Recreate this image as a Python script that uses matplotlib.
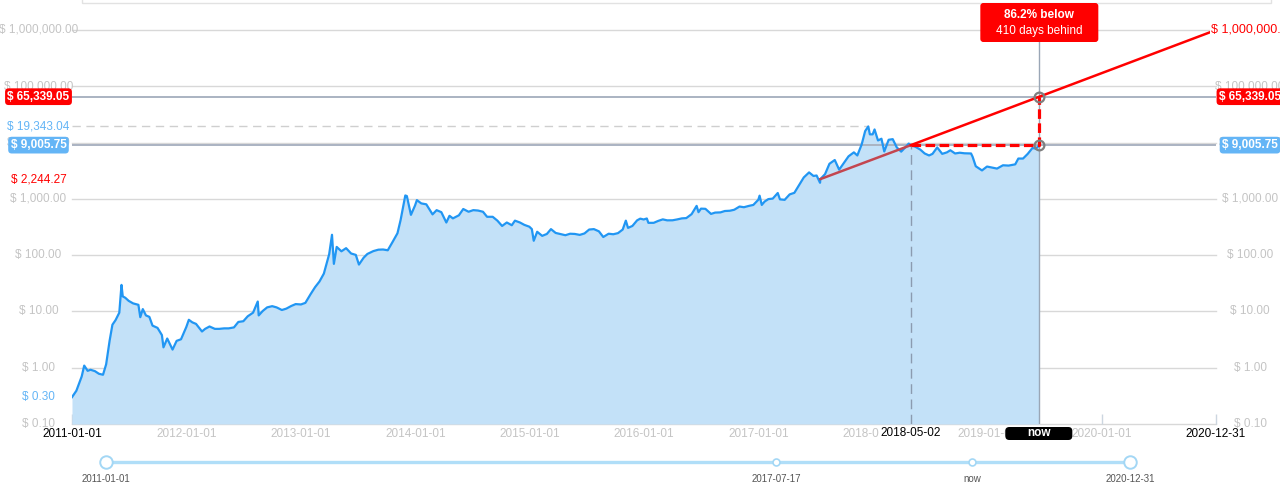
import numpy as np
import pandas as pd
import matplotlib
matplotlib.use("Agg")
import matplotlib.pyplot as plt
import matplotlib.dates as mdates
from matplotlib.patches import FancyBboxPatch, Rectangle
from matplotlib.transforms import IdentityTransform
from matplotlib.ticker import NullLocator

plt.rcParams['font.family'] = ['Liberation Sans', 'DejaVu Sans']

# Price history (USD)
price_dates = [
    "2011-01-01", "2011-01-15", "2011-02-01", "2011-02-09", "2011-02-20", "2011-03-01", "2011-03-15", "2011-03-28",
    "2011-04-10", "2011-04-20", "2011-05-01", "2011-05-10", "2011-05-20", "2011-06-01", "2011-06-08", "2011-06-12",
    "2011-06-20", "2011-07-01", "2011-07-15", "2011-08-01", "2011-08-07", "2011-08-15", "2011-08-25", "2011-09-05",
    "2011-09-15", "2011-10-01", "2011-10-15", "2011-10-20", "2011-11-01", "2011-11-18", "2011-12-01", "2011-12-15",
    "2012-01-01", "2012-01-09", "2012-01-20", "2012-02-01", "2012-02-20", "2012-03-01", "2012-03-15", "2012-04-01",
    "2012-04-15", "2012-05-01", "2012-05-15", "2012-06-01", "2012-06-15", "2012-07-01", "2012-07-15", "2012-08-01",
    "2012-08-16", "2012-08-19", "2012-09-01", "2012-09-15", "2012-10-01", "2012-10-15", "2012-11-01", "2012-11-15",
    "2012-12-01", "2012-12-15",
    "2013-01-01", "2013-01-15", "2013-02-01", "2013-02-15", "2013-03-01", "2013-03-15", "2013-04-01", "2013-04-10",
    "2013-04-16", "2013-04-25", "2013-05-10", "2013-05-25", "2013-06-10", "2013-06-25", "2013-07-05", "2013-07-20",
    "2013-08-01", "2013-08-20", "2013-09-05", "2013-09-20", "2013-10-05", "2013-10-20", "2013-11-05", "2013-11-15",
    "2013-11-30", "2013-12-05", "2013-12-18", "2013-12-31",
    "2014-01-06", "2014-01-20", "2014-02-05", "2014-02-15", "2014-02-25", "2014-03-10", "2014-03-25", "2014-04-10",
    "2014-04-20", "2014-05-01", "2014-05-20", "2014-06-03", "2014-06-20", "2014-07-05", "2014-07-20", "2014-08-05",
    "2014-08-18", "2014-09-05", "2014-09-20", "2014-10-05", "2014-10-20", "2014-11-05", "2014-11-15", "2014-12-01",
    "2014-12-15", "2014-12-31",
    "2015-01-08", "2015-01-14", "2015-01-25", "2015-02-10", "2015-02-25", "2015-03-10", "2015-03-25", "2015-04-10",
    "2015-04-25", "2015-05-10", "2015-05-25", "2015-06-10", "2015-06-25", "2015-07-10", "2015-07-25", "2015-08-10",
    "2015-08-24", "2015-09-10", "2015-09-25", "2015-10-10", "2015-10-25", "2015-11-04", "2015-11-11", "2015-11-25",
    "2015-12-10", "2015-12-20", "2015-12-31",
    "2016-01-10", "2016-01-15", "2016-02-01", "2016-02-15", "2016-03-01", "2016-03-15", "2016-04-01", "2016-04-15",
    "2016-05-01", "2016-05-15", "2016-06-01", "2016-06-17", "2016-06-23", "2016-07-01", "2016-07-15", "2016-08-02",
    "2016-08-15", "2016-09-01", "2016-09-15", "2016-10-01", "2016-10-15", "2016-11-01", "2016-11-15", "2016-12-01",
    "2016-12-15", "2016-12-31",
    "2017-01-04", "2017-01-11", "2017-01-20", "2017-02-01", "2017-02-15", "2017-03-03", "2017-03-10", "2017-03-25",
    "2017-04-10", "2017-04-25", "2017-05-10", "2017-05-25", "2017-06-11", "2017-06-25", "2017-07-05", "2017-07-16",
    "2017-07-17", "2017-08-01", "2017-08-15", "2017-09-01", "2017-09-15", "2017-10-01", "2017-10-15", "2017-11-01",
    "2017-11-12", "2017-11-26", "2017-12-07", "2017-12-17", "2017-12-22", "2017-12-31",
    "2018-01-06", "2018-01-17", "2018-01-28", "2018-02-06", "2018-02-20", "2018-03-05", "2018-03-18", "2018-04-01",
    "2018-04-15", "2018-04-25", "2018-05-02", "2018-05-15", "2018-06-01", "2018-06-15", "2018-06-29", "2018-07-10",
    "2018-07-25", "2018-08-10", "2018-08-25", "2018-09-05", "2018-09-20", "2018-10-05", "2018-10-20", "2018-11-10",
    "2018-11-15", "2018-11-25", "2018-12-15", "2018-12-31",
    "2019-01-15", "2019-02-01", "2019-02-20", "2019-03-10", "2019-03-31", "2019-04-10", "2019-04-25", "2019-05-10",
    "2019-05-25", "2019-06-05", "2019-06-16",
]
price_usd = [
    0.30, 0.39, 0.70, 1.09, 0.88, 0.92, 0.87, 0.78,
    0.75, 1.15, 3.0, 5.8, 7.0, 9.5, 29.6, 18.5,
    17.5, 15.4, 13.9, 13.1, 7.9, 11.0, 8.5, 8.0,
    5.6, 5.1, 3.8, 2.3, 3.3, 2.1, 3.0, 3.2,
    5.3, 7.1, 6.4, 6.0, 4.4, 4.9, 5.4, 4.9,
    4.9, 5.0, 5.0, 5.2, 6.5, 6.7, 8.2, 9.5,
    15.0, 8.5, 10.2, 11.8, 12.4, 11.8, 10.6, 11.2,
    12.5, 13.5,
    13.3, 14.2, 20.4, 27, 34, 47, 104, 230,
    70, 140, 117, 133, 107, 101, 68, 90,
    105, 118, 125, 126, 122, 170, 245, 420,
    1150, 1120, 520, 760,
    950, 830, 800, 650, 530, 630, 580, 380,
    500, 450, 510, 660, 590, 630, 620, 590,
    480, 480, 410, 330, 380, 340, 410, 380,
    345, 320,
    290, 180, 260, 220, 238, 290, 248, 236,
    226, 240, 238, 229, 243, 285, 290, 265,
    210, 240, 235, 246, 285, 410, 305, 330,
    415, 445, 430,
    448, 375, 375, 405, 432, 415, 416, 430,
    450, 455, 535, 750, 580, 670, 665, 540,
    570, 575, 608, 615, 640, 730, 710, 750,
    780, 965,
    1140, 780, 895, 990, 1010, 1270, 980, 960,
    1200, 1280, 1750, 2400, 2950, 2550, 2600, 1930,
    2244.27, 2750, 4200, 4900, 3300, 4400, 5700, 6700,
    5900, 9300, 16000, 19343.04, 14000, 14000,
    17100, 10900, 11700, 6950, 11200, 11500, 8200, 6900,
    8300, 9600, 9005.75, 8500, 7500, 6400, 5900, 6300,
    8200, 6300, 6700, 7300, 6400, 6600, 6450, 6400,
    5600, 3800, 3200, 3750,
    3600, 3450, 3950, 3900, 4100, 5200, 5200, 6300,
    8000, 7800, 9005.75,
]

start_date = "2011-01-01"
end_date = "2020-12-31"
now_date = "2019-06-16"
trend_start_date = "2017-07-17"
catch_date = "2018-05-02"
ath_date = "2017-12-17"

first_price = 0.30
ath_price = 19343.04
trend_start_price = 2244.27
now_price = 9005.75
trend_now_price = 65339.05
target_price = 1000000.0

year_ticks = ["2012-01-01", "2013-01-01", "2014-01-01", "2015-01-01", "2016-01-01",
              "2017-01-01", "2018-01-01", "2019-01-01", "2020-01-01"]
y_ticks = [0.1, 1, 10, 100, 1000, 10000, 100000, 1000000]
slider_dates = [start_date, trend_start_date, now_date, end_date]
slider_labels = ["2011-01-01", "2017-07-17", "now", "2020-12-31"]

RED = "#ff0000"
BLUE_LINE = "#2196f3"
BLUE_FILL = "#c3e1f8"
BLUE_TAG = "#64b5f6"
GRID = "#d8d8d8"
TICK_TXT = "#c4c4c4"

def dnum(s):
    return mdates.date2num(pd.Timestamp(s))

def usd(v):
    return f"$ {v:,.2f}"

x = mdates.date2num(pd.to_datetime(price_dates))
y = np.array(price_usd)

W, H = 1280, 492
fig = plt.figure(figsize=(W / 100, H / 100), dpi=100)
ax = fig.add_axes([72 / W, 68 / H, 1144 / W, 394 / H])
ax.set_yscale('log')
ax.set_ylim(0.1, 1e6)
ax.set_xlim(dnum(start_date), dnum(end_date))
for sp in ax.spines.values():
    sp.set_visible(False)
ax.set_yticks([])
ax.yaxis.set_minor_locator(NullLocator())
ax.tick_params(axis='y', which='both', left=False, labelleft=False)

# grid lines
for v in y_ticks:
    ax.axhline(v, color=GRID, lw=1, zorder=1, clip_on=False)

# price area
ax.fill_between(x, y, 0.1, color=BLUE_FILL, lw=0, zorder=2)
ax.plot(x, y, color=BLUE_LINE, lw=1.6, zorder=3)

# reference lines for current price and trend value
ax.axhline(trend_now_price, color="#aab3c2", lw=1.4, zorder=2)
ax.axhline(now_price, color="#aab3c2", lw=1.4, zorder=2)
ax.plot([dnum(start_date), dnum(ath_date)], [ath_price, ath_price],
        color="#cfcfcf", lw=1, ls=(0, (6, 4)), zorder=2)
ax.plot([dnum(catch_date), dnum(catch_date)], [0.1, now_price],
        color="#8b9bb0", lw=1, ls=(0, (7, 4)), zorder=4)
ax.axvline(dnum(now_date), color="#9aa6b6", lw=1, zorder=2)

# trend line
trend_x = [dnum(trend_start_date), dnum(catch_date), dnum(now_date), dnum(end_date)]
trend_y = [trend_start_price, now_price, trend_now_price, target_price]
ax.plot(trend_x[:2], trend_y[:2], color="#c34650", lw=1.8, zorder=5)
ax.plot(trend_x[1:], trend_y[1:], color=RED, lw=1.8, zorder=5, clip_on=False)

ax.plot([dnum(catch_date), dnum(now_date), dnum(now_date)],
        [now_price, now_price, trend_now_price],
        color=RED, lw=2.3, ls=(0, (3, 1.4)), zorder=6)
ax.plot([dnum(now_date)] * 2, [now_price, trend_now_price], 'o', ms=7,
        mfc='none', mec='#7f7f7f', mew=1.6, zorder=7)

# y labels on both sides
for v in y_ticks:
    for dx in (-33.5, 34):
        ax.annotate(usd(v), xy=(0 if dx < 0 else 1, v), xycoords=('axes fraction', 'data'),
                    xytext=(dx, 0), textcoords='offset pixels', ha='center', va='center',
                    fontsize=8.5, color=TICK_TXT, annotation_clip=False, zorder=8)

def tag(v, txt, color, side, boxed):
    dx = -33.5 if side == 'left' else 34
    kw = dict(xy=(0 if side == 'left' else 1, v), xycoords=('axes fraction', 'data'),
              xytext=(dx, 0), textcoords='offset pixels', ha='center', va='center',
              fontsize=8.5, annotation_clip=False, zorder=9)
    if boxed:
        ax.annotate(txt, color='white', fontweight='bold',
                    bbox=dict(boxstyle='round,pad=0.2,rounding_size=0.3', fc=color, ec='none'), **kw)
    else:
        ax.annotate(txt, color=color,
                    bbox=dict(boxstyle='square,pad=0.1', fc='white', ec='none'), **kw)

tag(trend_now_price, usd(trend_now_price), RED, 'left', True)
tag(trend_now_price, usd(trend_now_price), RED, 'right', True)
tag(now_price, usd(now_price), BLUE_TAG, 'left', True)
tag(now_price, usd(now_price), BLUE_TAG, 'right', True)
tag(ath_price, usd(ath_price), BLUE_TAG, 'left', False)
tag(trend_start_price, usd(trend_start_price), RED, 'left', False)
tag(first_price, usd(first_price), BLUE_TAG, 'left', False)
ax.annotate(usd(target_price), xy=(1, target_price), xycoords=('axes fraction', 'data'),
            xytext=(-5, 0), textcoords='offset pixels', ha='left', va='center',
            fontsize=9, color=RED, annotation_clip=False, zorder=9,
            bbox=dict(boxstyle='square,pad=0.1', fc='white', ec='none'))

# x axis ticks and labels
xt = [dnum(start_date)] + [dnum(d) for d in year_ticks] + [dnum(end_date)]
xl = [start_date] + year_ticks + [end_date]
ax.set_xticks(xt)
ax.set_xticklabels(xl, fontsize=8.5)
ax.xaxis.set_minor_locator(NullLocator())
ax.tick_params(axis='x', direction='in', length=7, width=1, color="#ccd6e0", pad=3, colors=TICK_TXT)
for lab in ax.get_xticklabels():
    lab.set_color(TICK_TXT)
ax.get_xticklabels()[0].set_color('black')
ax.get_xticklabels()[-1].set_color('black')
for t in ax.get_xticklines():
    t.set_color("#ccd6e0")

ax.annotate(catch_date, xy=(dnum(catch_date), 0), xycoords=('data', 'axes fraction'),
            xytext=(0, -9.5), textcoords='offset pixels', ha='center', va='center',
            fontsize=8.5, color='black', annotation_clip=False, zorder=9,
            bbox=dict(boxstyle='square,pad=0.15', fc='white', ec='none'))

fig.canvas.draw()
now_px = ax.transData.transform((dnum(now_date), 1))[0]
base_px = ax.transAxes.transform((0, 0))[1]
top_px = ax.transAxes.transform((0, 1))[1]

# "now" marker on the x axis
fig.add_artist(FancyBboxPatch((now_px - 34, base_px - 16), 67, 13,
                              boxstyle="round,pad=0,rounding_size=4",
                              transform=IdentityTransform(), fc='black', ec='none', zorder=10))
fig.text(now_px, base_px - 9.5, "now", transform=IdentityTransform(), ha='center', va='center',
         color='white', fontsize=8.5, fontweight='bold', zorder=11)

# callout box
gap_pct = (1 - now_price / trend_now_price) * 100
days_behind = (pd.Timestamp(now_date) - pd.Timestamp(catch_date)).days
fig.add_artist(FancyBboxPatch((now_px - 59, H - 42), 118, 39,
                              boxstyle="round,pad=0,rounding_size=3",
                              transform=IdentityTransform(), fc=RED, ec='none', zorder=10))
fig.text(now_px, H - 15, f"{gap_pct:.1f}% below", transform=IdentityTransform(),
         ha='center', va='center', color='white', fontsize=8.5, fontweight='bold', zorder=11)
fig.text(now_px, H - 31, f"{days_behind} days behind", transform=IdentityTransform(),
         ha='center', va='center', color='white', fontsize=8.5, zorder=11)

# faint frame at the very top
fig.add_artist(Rectangle((82 / W, (H - 3) / H), (1271 - 82) / W, 10 / H,
                         transform=fig.transFigure, fill=False, ec="#e2e2e2", lw=1))

# range slider
ax2 = fig.add_axes([106 / W, 0, 1024 / W, 40 / H])
ax2.set_xlim(dnum(start_date), dnum(end_date))
ax2.set_ylim(0, 40)
ax2.axis('off')
sx = [dnum(d) for d in slider_dates]
ax2.plot([sx[0], sx[-1]], [30, 30], color="#b0def8", lw=2.4, solid_capstyle='butt', zorder=1)
ax2.plot([sx[0], sx[-1]], [30, 30], 'o', ms=9, mfc='white', mec="#a3d7f5", mew=1.4, zorder=2, clip_on=False)
ax2.plot(sx[1:3], [30, 30], 'o', ms=5, mfc='white', mec="#a3d7f5", mew=1.2, zorder=2)
for xv, lab in zip(sx, slider_labels):
    ax2.text(xv, 13, lab, ha='center', va='center', fontsize=7, color="#555555", clip_on=False)

fig.savefig("out.png", dpi=100)
